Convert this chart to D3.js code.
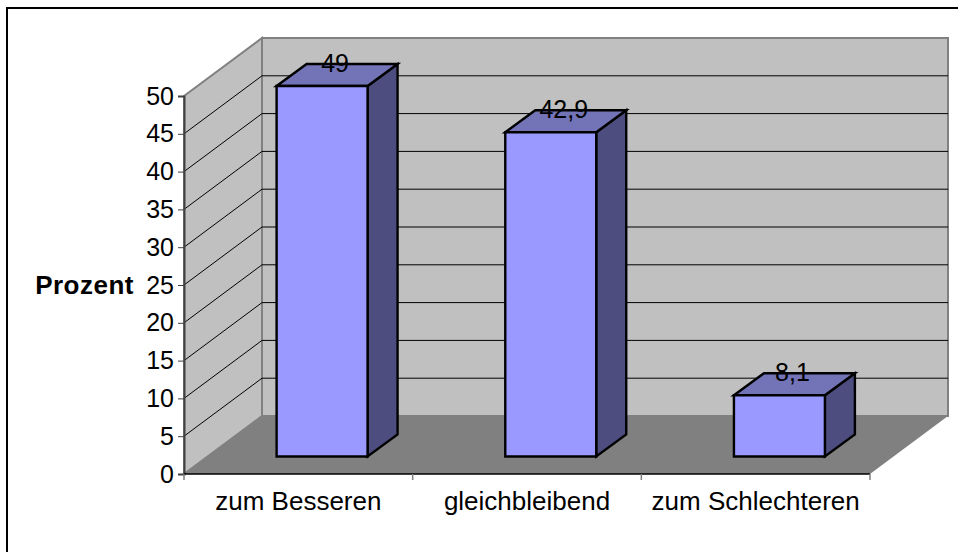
<!DOCTYPE html>
<html>
<head>
<meta charset="utf-8">
<script src="https://cdn.jsdelivr.net/npm/d3@7"></script>
<style>
  html, body { margin: 0; padding: 0; background: #fff; }
  svg { display: block; }
  text { font-family: "Liberation Sans", Arial, sans-serif; fill: #000; }
</style>
</head>
<body>
<svg id="chart" width="958" height="552"></svg>
<script>
const categories = ['zum Besseren', 'gleichbleibend', 'zum Schlechteren'];
const values = [49, 42.9, 8.1];
const value_labels = ['49', '42,9', '8,1'];
const y_ticks = [0, 5, 10, 15, 20, 25, 30, 35, 40, 45, 50];
const y_title = 'Prozent';

const width = 958, height = 552;
const plot_left = 184, plot_right = 870, plot_bottom = 474, plot_top = 96;
// oblique offsets of the fake 3d box
const wall_dx = 78, wall_dy = 58;
const bar_inset_dx = 24, bar_inset_dy = 17.5;
const bar_dx = 30, bar_dy = 22;

const svg = d3.select('#chart');

const x = d3.scaleBand().domain(categories).range([plot_left, plot_right])
    .paddingInner(0.6).paddingOuter(0.3);
const y = d3.scaleLinear().domain([0, 50]).range([plot_bottom, plot_top]);

function poly(points, fill, stroke, sw) {
    return svg.append('polygon')
        .attr('points', points.map(p => p.join(',')).join(' '))
        .attr('fill', fill)
        .attr('stroke', stroke || 'none')
        .attr('stroke-width', sw || 0)
        .attr('stroke-linejoin', 'miter');
}

// outer frame
svg.append('line').attr('x1', 6).attr('x2', width).attr('y1', 8).attr('y2', 8)
    .attr('stroke', '#000').attr('stroke-width', 2);
svg.append('line').attr('x1', 7).attr('x2', 7).attr('y1', 7).attr('y2', height)
    .attr('stroke', '#000').attr('stroke-width', 2);

// walls and floor
const back_left = plot_left + wall_dx, back_right = plot_right + wall_dx;
poly([[plot_left, y(50)], [back_left, y(50) - wall_dy], [back_left, y(0) - wall_dy], [plot_left, y(0)]], '#c0c0c0', '#808080', 2);
poly([[back_left, y(50) - wall_dy], [back_right, y(50) - wall_dy], [back_right, y(0) - wall_dy], [back_left, y(0) - wall_dy]], '#c0c0c0', '#808080', 2);
poly([[plot_left, y(0)], [back_left, y(0) - wall_dy], [back_right, y(0) - wall_dy], [plot_right, y(0)]], '#808080');

// gridlines run along the side wall then the back wall
y_ticks.filter(d => d > 0 && d < 50).forEach(d => {
    svg.append('polyline')
        .attr('points', [[plot_left, y(d)], [back_left, y(d) - wall_dy], [back_right, y(d) - wall_dy]].map(p => p.join(',')).join(' '))
        .attr('fill', 'none').attr('stroke', '#000').attr('stroke-width', 1);
});

// axes
const y_axis = svg.append('g')
    .attr('transform', 'translate(' + plot_left + ',0)')
    .call(d3.axisLeft(y).tickValues(y_ticks).tickSize(6).tickPadding(4));
y_axis.select('.domain').attr('stroke', '#404040').attr('stroke-width', 2);
y_axis.selectAll('.tick line').attr('stroke', '#404040');
y_axis.selectAll('text').style('font-size', '25px');

const x_axis = svg.append('g')
    .attr('transform', 'translate(0,' + plot_bottom + ')');
x_axis.append('line')
    .attr('x1', plot_left).attr('x2', plot_right).attr('stroke', '#000').attr('stroke-width', 1.5);
const step = x.step();
d3.range(4).forEach(i => {
    x_axis.append('line')
        .attr('x1', plot_left + i * step).attr('x2', plot_left + i * step)
        .attr('y1', 0).attr('y2', 6).attr('stroke', '#808080').attr('stroke-width', 1.5);
});
categories.forEach(c => {
    x_axis.append('text')
        .attr('x', x(c) + x.bandwidth() / 2 )
        .attr('y', 36)
        .attr('text-anchor', 'middle')
        .style('font-size', '26px')
        .text(c);
});

svg.append('text')
    .attr('x', 134).attr('y', 294)
    .attr('text-anchor', 'end')
    .style('font-size', '26px').style('font-weight', 'bold')
    .style('letter-spacing', '0.5px')
    .text(y_title);

// bars: side, top, front
categories.forEach((c, i) => {
    const x0 = x(c) + bar_inset_dx, x1 = x0 + x.bandwidth() - 0.5;
    const y0 = y(0) - bar_inset_dy;
    const y1 = y(values[i]) - bar_inset_dy;
    poly([[x1, y1], [x1 + bar_dx, y1 - bar_dy], [x1 + bar_dx, y0 - bar_dy], [x1, y0]], '#4d4d80', '#000', 2.4);
    poly([[x0, y1], [x0 + bar_dx, y1 - bar_dy], [x1 + bar_dx, y1 - bar_dy], [x1, y1]], '#7373b8', '#000', 2.4);
    poly([[x0, y1], [x1, y1], [x1, y0], [x0, y0]], '#9999ff', '#000', 2.4);
    svg.append('text')
        .attr('x', (x0 + x1) / 2 + 13)
        .attr('y', y1 - 14)
        .attr('text-anchor', 'middle')
        .style('font-size', '25px')
        .text(value_labels[i]);
});
</script>
</body>
</html>
